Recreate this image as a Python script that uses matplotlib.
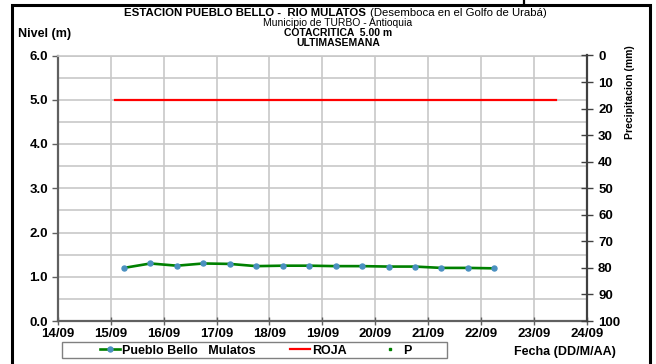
import matplotlib
matplotlib.use("Agg")
import matplotlib.pyplot as plt
import matplotlib.dates as mdates
import pandas as pd
from matplotlib.lines import Line2D
from matplotlib.patches import Rectangle

# ---- data ----
level_times = ["2023-09-15 06:00", "2023-09-15 18:00", "2023-09-16 06:00", "2023-09-16 18:00",
               "2023-09-17 06:00", "2023-09-17 18:00", "2023-09-18 06:00", "2023-09-18 18:00",
               "2023-09-19 06:00", "2023-09-19 18:00", "2023-09-20 06:00", "2023-09-20 18:00",
               "2023-09-21 06:00", "2023-09-21 18:00", "2023-09-22 06:00"]
level_values = [1.20, 1.30, 1.25, 1.30, 1.29, 1.24, 1.25, 1.25, 1.24, 1.24, 1.23, 1.23, 1.20, 1.20, 1.19]
roja_times = ["2023-09-15 02:00", "2023-09-23 10:00"]
roja_values = [5.0, 5.0]
p_times = []
p_values = []
x_range = ["2023-09-14", "2023-09-24"]
series_names = ["Pueblo Bello   Mulatos", "ROJA", "P"]

W, H = 656, 364
fig = plt.figure(figsize=(W / 100, H / 100), dpi=100)
plt.rcParams['font.family'] = ['Liberation Sans', 'DejaVu Sans']

def fx(px):
    return px / W

def fy(py):
    return 1 - py / H

ax_l, ax_r, ax_t, ax_b = 57.8, 587, 55.5, 321
ax = fig.add_axes([fx(ax_l), fy(ax_b), fx(ax_r) - fx(ax_l), fy(ax_t) - fy(ax_b)])

lt = pd.to_datetime(level_times)
rt = pd.to_datetime(roja_times)
ax.plot(rt, roja_values, color='#ff0000', lw=1.6, zorder=3)
ax.plot(lt, level_values, color='#008000', lw=1.9, marker='o', ms=3.6,
        mfc='#4a90c0', mec='#4a90c0', zorder=4)

ax.set_xlim(pd.to_datetime(x_range[0]), pd.to_datetime(x_range[1]))
ax.set_ylim(0, 6)
ax.xaxis.set_major_locator(mdates.DayLocator())
ax.xaxis.set_major_formatter(mdates.DateFormatter('%d/%m'))
ax.set_yticks([0, 1, 2, 3, 4, 5, 6])
ax.set_yticks([0.5, 1.5, 2.5, 3.5, 4.5, 5.5], minor=True)
ax.yaxis.set_major_formatter(matplotlib.ticker.FormatStrFormatter('%.1f'))
ax.grid(True, which='both', axis='y', color='#c8c8c8', lw=1.2)
ax.grid(True, which='major', axis='x', color='#c8c8c8', lw=1.2)
ax.set_axisbelow(True)
for lab in ax.get_xticklabels() + ax.get_yticklabels():
    lab.set_fontweight('bold')
ax.tick_params(axis='y', which='major', length=4, width=1, colors='#606060', labelcolor='black',
               labelsize=9.5, pad=3)
ax.tick_params(axis='y', which='minor', length=0)
ax.tick_params(axis='x', direction='inout', length=6, width=1, colors='#606060', labelcolor='black',
               labelsize=9.5, pad=2)
for s in ['left', 'bottom']:
    ax.spines[s].set_color('#606060')
    ax.spines[s].set_linewidth(1.6)
ax.spines['top'].set_color('#c8c8c8')
ax.spines['top'].set_linewidth(1.2)
ax.spines['right'].set_visible(False)

ax2 = ax.twinx()
ax2.plot(pd.to_datetime(p_times), p_values, ls='none', marker='s', ms=2, color='#008000')
ax2.set_ylim(100, 0)
ax2.set_yticks(range(0, 101, 10))
ax2.tick_params(axis='y', direction='inout', length=8, width=1, colors='#404040', labelcolor='black',
                labelsize=9.5, pad=4)
for lab in ax2.get_yticklabels():
    lab.set_fontweight('bold')
for s in ['left', 'bottom', 'top']:
    ax2.spines[s].set_visible(False)
ax2.spines['right'].set_color('#404040')
ax2.spines['right'].set_linewidth(1.6)

# ---- titles ----
fig.text(fx(366), fy(13.5), "ESTACION PUEBLO BELLO -  RIO MULATOS", ha='right', va='center',
         fontsize=8.2, fontweight='bold')
fig.text(fx(370), fy(13.5), "(Desemboca en el Golfo de Urabá)", ha='left', va='center', fontsize=8.2)
fig.text(fx(338), fy(23.5), "Municipio de TURBO - Antioquia", ha='center', va='center', fontsize=7.5)
fig.text(fx(338), fy(33.5), "COTACRITICA  5.00 m", ha='center', va='center', fontsize=7.5,
         fontweight='bold')
fig.text(fx(338), fy(43), "ULTIMASEMANA", ha='center', va='center', fontsize=7.5, fontweight='bold')
fig.text(fx(18), fy(34.5), "Nivel (m)", ha='left', va='center', fontsize=9, fontweight='bold')
fig.text(fx(630), fy(92), "Precipitacion (mm)", ha='center', va='center', rotation=90,
         fontsize=7.5, fontweight='bold')
fig.text(fx(565), fy(352), "Fecha (DD/M/AA)", ha='center', va='center', fontsize=9,
         fontweight='bold')

# ---- legend ----
handles = [Line2D([], [], color='#008000', lw=1.9, marker='o', ms=3.6, mfc='#4a90c0', mec='#4a90c0'),
           Line2D([], [], color='#ff0000', lw=1.6),
           Line2D([], [], ls='none', marker='s', ms=2, color='#008000')]
leg = fig.legend(handles, series_names, loc='center', bbox_to_anchor=(fx(255.5), fy(350.5)),
                 ncol=3, frameon=False, handlelength=1.6, handletextpad=0.2, columnspacing=2.7,
                 prop={'weight': 'bold', 'size': 9})
fig.add_artist(Rectangle((fx(62), fy(358)), fx(447) - fx(62), fy(342) - fy(358),
                         transform=fig.transFigure, fill=False, ec='#808080', lw=1.0))

# ---- outer border ----
fig.add_artist(Rectangle((fx(12), -0.05), fx(650) - fx(12), fy(5) + 0.05,
                         transform=fig.transFigure, fill=False, ec='black', lw=2.2, clip_on=False))
fig.add_artist(Line2D([fx(524), fx(524)], [fy(0), fy(5)], transform=fig.transFigure,
                      color='black', lw=1.6))

fig.savefig('out.png', dpi=100)
